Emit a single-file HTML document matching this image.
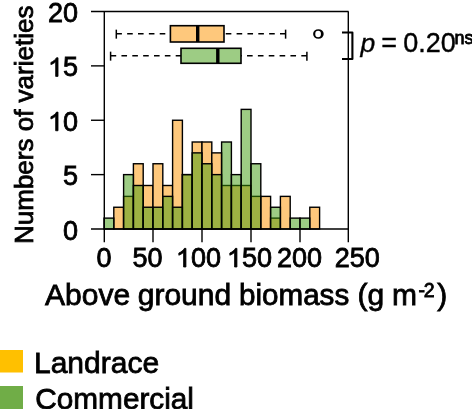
<!DOCTYPE html>
<html><head><meta charset="utf-8"><style>
html,body{margin:0;padding:0;background:#fff;}
body{width:472px;height:409px;overflow:hidden;position:relative;}
svg{position:absolute;left:0;top:0;will-change:transform;}
text{font-family:"Liberation Sans",sans-serif;fill:#000;stroke:#000;stroke-width:0.8px;}
.t27{font-size:27px;}
</style></head><body>
<svg width="472" height="409" viewBox="0 0 472 409">
<rect x="113.80" y="207.25" width="9.80" height="21.75" fill="#fec87c" stroke="#000" stroke-width="1.4"/><rect x="123.60" y="196.38" width="9.80" height="32.62" fill="#fec87c" stroke="#000" stroke-width="1.4"/><rect x="133.40" y="163.75" width="9.80" height="65.25" fill="#fec87c" stroke="#000" stroke-width="1.4"/><rect x="143.20" y="185.50" width="9.80" height="43.50" fill="#fec87c" stroke="#000" stroke-width="1.4"/><rect x="153.00" y="163.75" width="9.80" height="65.25" fill="#fec87c" stroke="#000" stroke-width="1.4"/><rect x="162.80" y="185.50" width="9.80" height="43.50" fill="#fec87c" stroke="#000" stroke-width="1.4"/><rect x="172.60" y="120.25" width="9.80" height="108.75" fill="#fec87c" stroke="#000" stroke-width="1.4"/><rect x="182.40" y="174.62" width="9.80" height="54.38" fill="#fec87c" stroke="#000" stroke-width="1.4"/><rect x="192.20" y="142.00" width="9.80" height="87.00" fill="#fec87c" stroke="#000" stroke-width="1.4"/><rect x="202.00" y="142.00" width="9.80" height="87.00" fill="#fec87c" stroke="#000" stroke-width="1.4"/><rect x="211.80" y="152.88" width="9.80" height="76.12" fill="#fec87c" stroke="#000" stroke-width="1.4"/><rect x="221.60" y="185.50" width="9.80" height="43.50" fill="#fec87c" stroke="#000" stroke-width="1.4"/><rect x="231.40" y="185.50" width="9.80" height="43.50" fill="#fec87c" stroke="#000" stroke-width="1.4"/><rect x="241.20" y="185.50" width="9.80" height="43.50" fill="#fec87c" stroke="#000" stroke-width="1.4"/><rect x="251.00" y="196.38" width="9.80" height="32.62" fill="#fec87c" stroke="#000" stroke-width="1.4"/><rect x="260.80" y="196.38" width="9.80" height="32.62" fill="#fec87c" stroke="#000" stroke-width="1.4"/><rect x="270.60" y="218.12" width="9.80" height="10.88" fill="#fec87c" stroke="#000" stroke-width="1.4"/><rect x="280.40" y="196.38" width="9.80" height="32.62" fill="#fec87c" stroke="#000" stroke-width="1.4"/><rect x="309.80" y="207.25" width="9.80" height="21.75" fill="#fec87c" stroke="#000" stroke-width="1.4"/><rect x="104.00" y="218.12" width="9.80" height="10.88" fill="rgba(59,153,9,0.5)" stroke="#000" stroke-width="1.4"/><rect x="123.60" y="174.62" width="9.80" height="54.38" fill="rgba(59,153,9,0.5)" stroke="#000" stroke-width="1.4"/><rect x="133.40" y="185.50" width="9.80" height="43.50" fill="rgba(59,153,9,0.5)" stroke="#000" stroke-width="1.4"/><rect x="143.20" y="207.25" width="9.80" height="21.75" fill="rgba(59,153,9,0.5)" stroke="#000" stroke-width="1.4"/><rect x="153.00" y="207.25" width="9.80" height="21.75" fill="rgba(59,153,9,0.5)" stroke="#000" stroke-width="1.4"/><rect x="162.80" y="196.38" width="9.80" height="32.62" fill="rgba(59,153,9,0.5)" stroke="#000" stroke-width="1.4"/><rect x="172.60" y="207.25" width="9.80" height="21.75" fill="rgba(59,153,9,0.5)" stroke="#000" stroke-width="1.4"/><rect x="182.40" y="174.62" width="9.80" height="54.38" fill="rgba(59,153,9,0.5)" stroke="#000" stroke-width="1.4"/><rect x="192.20" y="152.88" width="9.80" height="76.12" fill="rgba(59,153,9,0.5)" stroke="#000" stroke-width="1.4"/><rect x="202.00" y="163.75" width="9.80" height="65.25" fill="rgba(59,153,9,0.5)" stroke="#000" stroke-width="1.4"/><rect x="211.80" y="174.62" width="9.80" height="54.38" fill="rgba(59,153,9,0.5)" stroke="#000" stroke-width="1.4"/><rect x="221.60" y="142.00" width="9.80" height="87.00" fill="rgba(59,153,9,0.5)" stroke="#000" stroke-width="1.4"/><rect x="231.40" y="174.62" width="9.80" height="54.38" fill="rgba(59,153,9,0.5)" stroke="#000" stroke-width="1.4"/><rect x="241.20" y="109.38" width="9.80" height="119.62" fill="rgba(59,153,9,0.5)" stroke="#000" stroke-width="1.4"/><rect x="251.00" y="163.75" width="9.80" height="65.25" fill="rgba(59,153,9,0.5)" stroke="#000" stroke-width="1.4"/><rect x="270.60" y="207.25" width="9.80" height="21.75" fill="rgba(59,153,9,0.5)" stroke="#000" stroke-width="1.4"/><rect x="290.20" y="218.12" width="9.80" height="10.88" fill="rgba(59,153,9,0.5)" stroke="#000" stroke-width="1.4"/><rect x="300.00" y="218.12" width="9.80" height="10.88" fill="rgba(59,153,9,0.5)" stroke="#000" stroke-width="1.4"/>
<line x1="104.3" y1="11.5" x2="104.3" y2="242.3" stroke="#000" stroke-width="1.4"/><line x1="91" y1="11.5" x2="348.6" y2="11.5" stroke="#000" stroke-width="1.4"/><line x1="348.3" y1="11.5" x2="348.3" y2="242.3" stroke="#000" stroke-width="1.4"/><line x1="91" y1="229" x2="348.6" y2="229" stroke="#000" stroke-width="1.7"/><line x1="91" y1="174.62" x2="104.3" y2="174.62" stroke="#000" stroke-width="1.4"/><line x1="91" y1="120.25" x2="104.3" y2="120.25" stroke="#000" stroke-width="1.4"/><line x1="91" y1="65.88" x2="104.3" y2="65.88" stroke="#000" stroke-width="1.4"/><line x1="153.00" y1="229" x2="153.00" y2="242.3" stroke="#000" stroke-width="1.4"/><line x1="202.00" y1="229" x2="202.00" y2="242.3" stroke="#000" stroke-width="1.4"/><line x1="251.00" y1="229" x2="251.00" y2="242.3" stroke="#000" stroke-width="1.4"/><line x1="300.00" y1="229" x2="300.00" y2="242.3" stroke="#000" stroke-width="1.4"/>
<text x="62.98" y="239.50" class="t27" xml:space="preserve">0</text><text x="62.98" y="185.12" class="t27" xml:space="preserve">5</text><text x="47.97" y="130.75" class="t27" xml:space="preserve"> 0</text><path d="M763,0 L583,0 L583,1147 Q518,1085 412,1023 Q307,961 223,930 L223,1104 Q374,1175 486,1276 Q599,1377 646,1472 L763,1472 Z" transform="translate(47.97,130.75) scale(0.013184,-0.012656)" fill="#000" stroke="#000" stroke-width="0.8" vector-effect="non-scaling-stroke"/><text x="47.97" y="76.38" class="t27" xml:space="preserve"> 5</text><path d="M763,0 L583,0 L583,1147 Q518,1085 412,1023 Q307,961 223,930 L223,1104 Q374,1175 486,1276 Q599,1377 646,1472 L763,1472 Z" transform="translate(47.97,76.38) scale(0.013184,-0.012656)" fill="#000" stroke="#000" stroke-width="0.8" vector-effect="non-scaling-stroke"/><text x="47.97" y="22.00" class="t27" xml:space="preserve">20</text><text x="96.49" y="267.00" class="t27" xml:space="preserve">0</text><text x="132.58" y="267.00" class="t27" xml:space="preserve">50</text><text x="175.88" y="267.00" class="t27" xml:space="preserve"> 00</text><path d="M763,0 L583,0 L583,1147 Q518,1085 412,1023 Q307,961 223,930 L223,1104 Q374,1175 486,1276 Q599,1377 646,1472 L763,1472 Z" transform="translate(175.88,267.00) scale(0.013184,-0.012656)" fill="#000" stroke="#000" stroke-width="0.8" vector-effect="non-scaling-stroke"/><text x="226.88" y="267.00" class="t27" xml:space="preserve"> 50</text><path d="M763,0 L583,0 L583,1147 Q518,1085 412,1023 Q307,961 223,930 L223,1104 Q374,1175 486,1276 Q599,1377 646,1472 L763,1472 Z" transform="translate(226.88,267.00) scale(0.013184,-0.012656)" fill="#000" stroke="#000" stroke-width="0.8" vector-effect="non-scaling-stroke"/><text x="276.98" y="267.00" class="t27" xml:space="preserve">200</text><text x="334.78" y="267.00" class="t27" xml:space="preserve">250</text>
<line x1="116.3" y1="33.75" x2="170.4" y2="33.75" stroke="#000" stroke-width="1.5" stroke-dasharray="5.6 5.25"/><line x1="285.6" y1="33.75" x2="224.0" y2="33.75" stroke="#000" stroke-width="1.5" stroke-dasharray="5.6 5.25"/><line x1="116.3" y1="29.65" x2="116.3" y2="38.65" stroke="#000" stroke-width="1.5"/><line x1="285.6" y1="29.65" x2="285.6" y2="38.65" stroke="#000" stroke-width="1.5"/><rect x="170.4" y="25.700000000000003" width="53.599999999999994" height="16.3" fill="#fec87c" stroke="#000" stroke-width="1.6"/><line x1="197.7" y1="25.700000000000003" x2="197.7" y2="42.0" stroke="#000" stroke-width="3.4"/><line x1="110.6" y1="55.75" x2="181.0" y2="55.75" stroke="#000" stroke-width="1.5" stroke-dasharray="5.6 5.25"/><line x1="306.9" y1="55.75" x2="241.0" y2="55.75" stroke="#000" stroke-width="1.5" stroke-dasharray="5.6 5.25"/><line x1="110.6" y1="51.65" x2="110.6" y2="60.65" stroke="#000" stroke-width="1.5"/><line x1="306.9" y1="51.65" x2="306.9" y2="60.65" stroke="#000" stroke-width="1.5"/><rect x="181.0" y="48.3" width="60.0" height="15.0" fill="#9dcc84" stroke="#000" stroke-width="1.6"/><line x1="217.8" y1="48.3" x2="217.8" y2="63.3" stroke="#000" stroke-width="3.4"/><path d="M313.09999999999997,34.0 a5.3,4.85 0 1,0 10.6,0 a5.3,4.85 0 1,0 -10.6,0 Z M315.25,34.0 a2.85,3.3 0 1,0 5.7,0 a2.85,3.3 0 1,0 -5.7,0 Z" fill="#000" fill-rule="evenodd"/><polyline points="342,32.5 352.4,32.5 352.4,58.95 342,58.95" fill="none" stroke="#000" stroke-width="2.1" stroke-linejoin="round"/>
<text transform="translate(32.9,124.8) rotate(-90)" text-anchor="middle" style="font-size:26px">Numbers of varieties</text>
<text x="45" y="305.2" style="font-size:30px">Above</text>
<text x="137.75" y="305.2" style="font-size:30px">ground</text>
<text x="239" y="305.2" style="font-size:29.6px">biomass</text>
<text x="357.4" y="305.2" style="font-size:30px">(g</text>
<text x="392" y="305.2" style="font-size:30px">m</text>
<text x="418.5" y="297" style="font-size:19.5px">-</text>
<text x="423.75" y="297" style="font-size:19.5px">2</text>
<text x="437.25" y="305.2" style="font-size:30px">)</text>
<text x="360.6" y="52.3" style="font-size:26.5px;font-style:italic;stroke-width:0.35px">p</text>
<text x="381.2" y="52.3" style="font-size:27px;stroke-width:0.3px">=</text>
<text x="403.3" y="52.3" style="font-size:27px;stroke-width:0.4px">0.20</text>
<text x="454.5" y="43.5" style="font-size:18px">ns</text>
<rect x="0" y="350" width="23" height="22.5" fill="#ffc000"/>
<rect x="0" y="386" width="23" height="23" fill="#70ad47"/>
<text x="34" y="372.75" style="font-size:30px">Landrace</text>
<text x="35.3" y="408.7" style="font-size:29.75px">Commercial</text>
</svg>
</body></html>
